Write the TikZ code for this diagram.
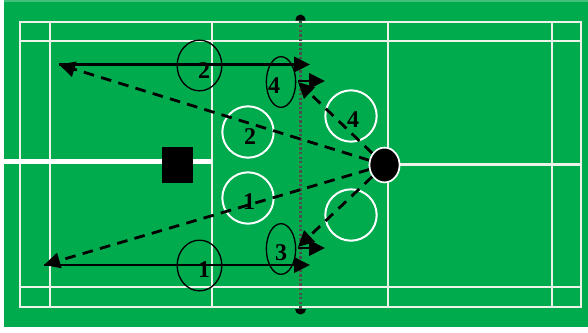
\documentclass[tikz,border=0pt]{standalone}
\usepackage{fontspec}
\setmainfont{Liberation Serif}
\usetikzlibrary{arrows.meta,shapes.geometric}
\definecolor{courtgreen}{HTML}{00AB4E}
\definecolor{courtline}{HTML}{EEF3EA}
\tikzset{
  px/.style={x=0.75pt,y=-0.75pt},
  courtln/.style={draw=courtline,line width=2pt},
  whitezone/.style={circle,draw=white,line width=1.5pt,minimum size=38.5pt,inner sep=0pt},
  blackring/.style={ellipse,draw=black,line width=1pt,inner sep=0pt},
  shot/.style={draw=black,line width=2.1pt,-{Triangle[length=12pt,width=11.5pt]}},
  dashshot/.style={draw=black,line width=2.1pt,dash pattern=on 8pt off 5.5pt,-{Triangle[length=12pt,width=11.5pt]}},
  numlabel/.style={font=\bfseries\fontsize{18}{19}\selectfont,text=black,inner sep=0pt},
  player/.style={ellipse,fill=black,draw=white,line width=1.2pt,minimum width=22.5pt,minimum height=26pt,inner sep=0pt},
  netln/.style={draw=black!70,line width=2.4pt,dash pattern=on 1.8pt off 1.6pt},
}
\begin{document}
\begin{tikzpicture}[px]
\useasboundingbox (0,0) rectangle (588,332);
\fill[white] (0,0) rectangle (588,332);
\fill[courtgreen] (4,0) rectangle (588,327);
\fill[courtgreen!75!white] (4,0) rectangle (588,1.5);
% court
\draw[courtln] (20,22) rectangle (581,307);
\draw[courtln] (20,41) -- (581,41);
\draw[courtln] (20,287) -- (581,287);
\foreach \xx in {50,212,388,552} \draw[courtln] (\xx,22) -- (\xx,307);
\draw[draw=white,line width=3.2pt] (0,161.5) -- (212,161.5);
\draw[courtln] (388,164.5) -- (581,164.5);
% net
\coordinate (nettop) at (300.5,20.5);
\coordinate (netbot) at (300.5,309);
\fill[black] (nettop) ++(-5,0) arc (180:360:5 and 6) -- cycle;
\fill[black] (netbot) ++(-5.5,0) arc (180:0:5.5 and 5.5) -- cycle;
\draw[netln] (nettop) -- (netbot);
% zones
\node[whitezone] (z2) at (248,132) {};
\node[whitezone] (z1) at (248,198) {};
\node[whitezone] (z4) at (351,116) {};
\node[whitezone] (z0) at (351,215) {};
\node[blackring,minimum width=33.5pt,minimum height=38pt] (r2) at (199.5,65.5) {};
\node[blackring,minimum width=33.5pt,minimum height=38pt] (r1) at (199.5,265.5) {};
\node[blackring,minimum width=22pt,minimum height=38pt] (r4) at (281,82) {};
\node[blackring,minimum width=22pt,minimum height=38pt] (r3) at (281,249) {};
% player and opponent
\node[player] (p) at (384.5,165) {};
\node[fill=black,minimum width=23.5pt,minimum height=27pt,inner sep=0pt] (sq) at (177.5,165) {};
% targets
\coordinate (t2) at (59,64.5);
\coordinate (t1) at (44,265);
\coordinate (t2r) at (310,64.5);
\coordinate (t1r) at (310,265);
\coordinate (n4) at (298,82);
\coordinate (n3) at (298,247);
\coordinate (a4s) at (298,81);
\coordinate (a4e) at (325,81);
\coordinate (a3s) at (298,248);
\coordinate (a3e) at (325,248);
% shots
\draw[shot] (t2) -- (t2r);
\draw[shot] (t1) -- (t1r);
\draw[shot] (a4s) -- (a4e);
\draw[shot] (a3s) -- (a3e);
\draw[dashshot] (p) -- (t2);
\draw[dashshot] (p) -- (t1);
\draw[dashshot] (p) -- (n4);
\draw[dashshot] (p) -- (n3);
\node[player] at (p) {};
% numbers
\node[numlabel] (l2) at (204,71) {2};
\node[numlabel] (l1) at (204,270) {1};
\node[numlabel] (l4) at (274,86) {4};
\node[numlabel] (l3) at (281,253) {3};
\node[numlabel] (lz2) at (250,137) {2};
\node[numlabel] (lz1) at (249,202) {1};
\node[numlabel] (lz4) at (353,120) {4};
\end{tikzpicture}
\end{document}
